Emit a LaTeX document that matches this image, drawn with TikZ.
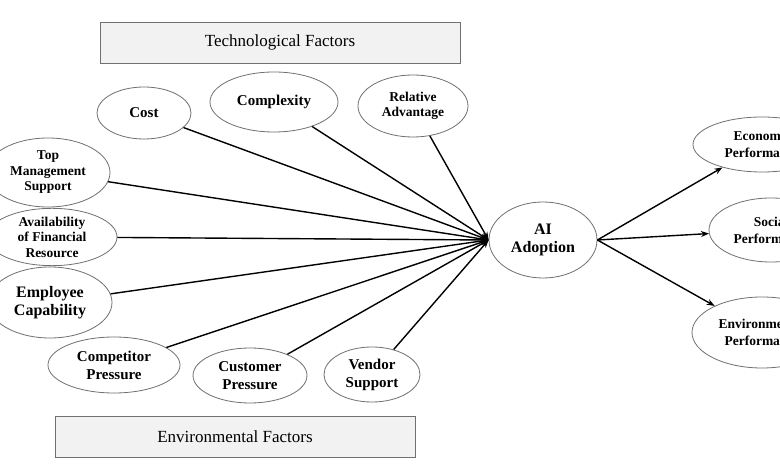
\documentclass[tikz,border=0pt]{standalone}
\usepackage{fontspec}
\setmainfont{Liberation Serif}
\usetikzlibrary{shapes.geometric,arrows.meta}
\definecolor{boxfill}{HTML}{F2F2F2}
\definecolor{edgegray}{HTML}{707070}
\tikzset{
  fac/.style={ellipse, draw=edgegray, line width=0.8pt, fill=white, inner sep=0pt, align=center, font=\bfseries},
  titlebox/.style={rectangle, draw=edgegray, line width=0.8pt, fill=boxfill, inner sep=0pt, font=\fontsize{17}{20}\selectfont},
  link/.style={line width=1.4pt, black, -{Stealth[length=8pt,width=6pt]}},
  f14/.style={font=\bfseries\fontsize{15}{18}\selectfont},
  f13/.style={font=\bfseries\fontsize{13.5}{15.5}\selectfont},
  f15/.style={font=\bfseries\fontsize{16}{18.5}\selectfont},
  fout/.style={font=\bfseries\fontsize{13.5}{17}\selectfont},
}
\begin{document}
\begin{tikzpicture}[x=1pt,y=-1pt]
\useasboundingbox (0,0) rectangle (780,470);
\clip (0,0) rectangle (780,470);
\fill[white] (0,0) rectangle (780,470);
% title boxes
\node[titlebox, minimum width=360pt, minimum height=41pt] (tech) at (280,42.5) {Technological Factors};
\node[titlebox, minimum width=360pt, minimum height=41pt] (env) at (235,436.5) {Environmental Factors};
% factor nodes
\node[fac, f14, minimum width=94pt, minimum height=52pt] (cost) at (144,113) {Cost};
\node[fac, f14, minimum width=128pt, minimum height=60pt] (cplx) at (274,102) {Complexity};
\node[fac, f13, minimum width=110pt, minimum height=62pt] (rel) at (413,106) {Relative\\Advantage};
\node[fac, f13, minimum width=124pt, minimum height=69pt] (top) at (48,172.5) {Top\\Management\\Support};
\node[fac, f13, minimum width=130pt, minimum height=50pt] (fin) at (52,237) {Availability\\of Financial\\Resource};
\node[fac, f15, minimum width=124pt, minimum height=71pt] (emp) at (50,302.5) {Employee\\Capability};
\node[fac, f14, minimum width=132pt, minimum height=56pt] (comp) at (114,365) {Competitor\\Pressure};
\node[fac, f14, minimum width=114pt, minimum height=55pt] (cust) at (250,375.5) {Customer\\Pressure};
\node[fac, f14, minimum width=96pt, minimum height=55pt] (vend) at (372,374.5) {Vendor\\Support};
% central node
\node[fac, f15, minimum width=108pt, minimum height=76pt] (ai) at (543,240) {AI\\Adoption};
% outcomes
\node[fac, fout, minimum width=138pt, minimum height=55pt] (eco) at (762,144.5) {Economic\\Performance};
\node[fac, fout, minimum width=124pt, minimum height=64pt] (soc) at (771,230) {Social\\Performance};
\node[fac, fout, minimum width=140pt, minimum height=71pt] (envp) at (762,332.5) {Environmental\\Performance};
% connectors
\foreach \s in {cost,cplx,rel,top,fin,emp,comp,cust,vend}
  \draw[link] (\s) -- (ai.west);
\draw[link] (ai.east) -- (eco);
\draw[link] (ai.east) -- (soc);
\draw[link] (ai.east) -- (envp);
\end{tikzpicture}
\end{document}
